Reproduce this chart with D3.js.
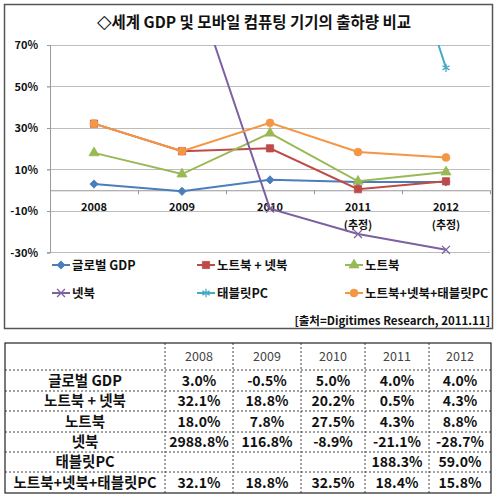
<!DOCTYPE html>
<html>
<head>
<meta charset="utf-8">
<script src="https://cdn.jsdelivr.net/npm/d3@7"></script>
<style>
  body { margin: 0; background: #fff; }
  svg { display: block; font-family: "Noto Sans CJK KR", "Noto Sans", sans-serif; }
</style>
</head>
<body>
<svg id="chart" width="500" height="498"></svg>
<script>
const years = ['2008', '2009', '2010', '2011', '2012']
const yearNotes = ['', '', '', '(추정)', '(추정)']
const yTicks = [-30, -10, 10, 30, 50, 70]

const seriesNames = ['글로벌 GDP', '노트북 + 넷북', '노트북', '넷북', '태블릿PC', '노트북+넷북+태블릿PC']
const tableNames = ['글로벌 GDP', '노트북 + 넷북', '노트북', '넷북', '태블릿PC', '노트북+넷북+태블릿PC']
const gdp = [3.0, -0.5, 5.0, 4.0, 4.0]
const notebookNetbook = [32.1, 18.8, 20.2, 0.5, 4.3]
const notebook = [18.0, 7.8, 27.5, 4.3, 8.8]
const netbook = [2988.8, 116.8, -8.9, -21.1, -28.7]
const tablet = [null, null, null, 188.3, 59.0]
const allMobile = [32.1, 18.8, 32.5, 18.4, 15.8]

const colors = ['#4a7ebb', '#be4b48', '#98b954', '#7d60a0', '#46aac5', '#f59645']
const shapes = ['diamond', 'square', 'triangle', 'x', 'star', 'circle']
const values = [gdp, notebookNetbook, notebook, netbook, tablet, allMobile]

const svg = d3.select('#chart')

// outer chart box
svg.append('rect')
    .attr('x', 4.5).attr('y', 4.5)
    .attr('width', 488).attr('height', 324)
    .attr('fill', '#fff')
    .attr('stroke', '#555').attr('stroke-width', 1.5)

const title = svg.append('text')
    .attr('x', 254).attr('y', 28)
    .attr('text-anchor', 'middle')
    .attr('font-size', 15.5).attr('font-weight', 'bold')
    .attr('fill', '#111')
title.append('tspan')
    .attr('font-family', '"DejaVu Sans", sans-serif')
    .attr('font-size', 19)
    .attr('font-weight', 'normal')
    .text('◇')
title.append('tspan').text('세계 GDP 및 모바일 컴퓨팅 기기의 출하량 비교')

const plotLeft = 50, plotRight = 490, plotTop = 45, plotBottom = 252.5

const x = d3.scaleBand().domain(years).range([plotLeft, plotRight])
const y = d3.scaleLinear().domain([-30, 70]).range([plotBottom, plotTop])

// gridlines
svg.append('g').selectAll('line')
    .data(yTicks)
    .join('line')
    .attr('x1', plotLeft - 3).attr('x2', plotRight)
    .attr('y1', d => y(d)).attr('y2', d => y(d))
    .attr('stroke', '#bdbdbd').attr('stroke-width', 1)
    .attr('shape-rendering', 'crispEdges')

// y axis
const yAxis = svg.append('g')
    .attr('transform', `translate(${plotLeft},0)`)
    .call(d3.axisLeft(y).tickValues(yTicks).tickSize(3).tickPadding(9).tickFormat(d => d + '%'))
yAxis.select('.domain').attr('stroke', '#999')
yAxis.selectAll('.tick line').attr('stroke', '#999')
yAxis.selectAll('text')
    .attr('font-size', 11).attr('font-weight', 'bold').attr('fill', '#111')
    .attr('font-family', '"Noto Sans CJK KR", sans-serif')

// x axis at zero, ticks at category boundaries
const xb = d3.scaleLinear().domain([0, years.length]).range([plotLeft, plotRight])
const xAxis = svg.append('g')
    .attr('transform', `translate(0,${y(0)})`)
    .call(d3.axisBottom(xb).ticks(years.length).tickSize(4).tickSizeOuter(0).tickFormat(''))
xAxis.select('.domain').attr('stroke', '#999')
xAxis.selectAll('.tick line').attr('stroke', '#999')

svg.append('g').selectAll('text')
    .data(years)
    .join('text')
    .attr('x', d => x(d) + x.bandwidth() / 2)
    .attr('y', 211)
    .attr('text-anchor', 'middle')
    .attr('font-size', 11).attr('font-weight', 'bold').attr('fill', '#111')
    .text(d => d)

svg.append('g').selectAll('text')
    .data(years)
    .join('text')
    .attr('x', d => x(d) + x.bandwidth() / 2)
    .attr('y', 229)
    .attr('text-anchor', 'middle')
    .attr('font-size', 11).attr('font-weight', 'bold').attr('fill', '#111')
    .text((d, i) => yearNotes[i])

svg.append('clipPath').attr('id', 'plotClip')
    .append('rect')
    .attr('x', plotLeft).attr('y', plotTop)
    .attr('width', plotRight - plotLeft).attr('height', plotBottom - plotTop + 6)

function marker (sel, shape, color) {
    const sym = {
        diamond: d3.symbolSquare,
        square: d3.symbolSquare,
        triangle: d3.symbolTriangle,
        x: d3.symbolX || d3.symbolCross,
        star: d3.symbolAsterisk || d3.symbolCross,
        circle: d3.symbolCircle
    }[shape]
    const size = { diamond: 34, square: 52, triangle: 44, x: 42, star: 48, circle: 48 }[shape]
    const stroked = shape === 'x' || shape === 'star'
    sel.append('path')
        .attr('d', d3.symbol(sym, size)())
        .attr('transform', shape === 'diamond' ? 'rotate(45)' : null)
        .attr('fill', stroked ? 'none' : color)
        .attr('stroke', color)
        .attr('stroke-width', stroked ? 1.3 : 0.8)
}

const plot = svg.append('g').attr('clip-path', 'url(#plotClip)')
const line = d3.line()
    .defined(d => d.v !== null)
    .x(d => x(d.year) + x.bandwidth() / 2)
    .y(d => y(d.v))

values.forEach((vals, i) => {
    const pts = years.map((yr, j) => ({ year: yr, v: vals[j] }))
    plot.append('path')
        .datum(pts)
        .attr('d', line)
        .attr('fill', 'none')
        .attr('stroke', colors[i])
        .attr('stroke-width', 2)
    plot.append('g').selectAll('g')
        .data(pts.filter(d => d.v !== null))
        .join('g')
        .attr('transform', d => `translate(${x(d.year) + x.bandwidth() / 2},${y(d.v)})`)
        .each(function () { marker(d3.select(this), shapes[i], colors[i]) })
})

// legend
const legendX = [52, 197, 345]
const legendY = [265, 293]
seriesNames.forEach((name, i) => {
    const g = svg.append('g')
        .attr('transform', `translate(${legendX[i % 3]},${legendY[Math.floor(i / 3)]})`)
    g.append('line')
        .attr('x1', 0).attr('x2', 18)
        .attr('stroke', colors[i]).attr('stroke-width', 2)
    marker(g.append('g').attr('transform', 'translate(9,0)'), shapes[i], colors[i])
    g.append('text')
        .attr('x', 20).attr('y', 4.5)
        .attr('font-size', 12.5).attr('font-weight', 'bold').attr('fill', '#111')
        .text(name)
})

svg.append('text')
    .attr('x', 490).attr('y', 325)
    .attr('text-anchor', 'end')
    .attr('font-size', 11.5).attr('font-weight', 'bold').attr('fill', '#111')
    .text('[출처=Digitimes Research, 2011.11]')

// data table
const colX = [5, 165, 233, 301, 365, 429, 491]
const rowY = [343, 370, 391, 411, 432, 452, 472, 493]
const table = svg.append('g')

table.append('g').selectAll('line')
    .data(rowY.slice(1, -1))
    .join('line')
    .attr('x1', colX[0]).attr('x2', colX[colX.length - 1])
    .attr('y1', d => d).attr('y2', d => d)
    .attr('stroke', '#444').attr('stroke-dasharray', '2,2')
table.append('g').selectAll('line')
    .data(colX.slice(1, -1))
    .join('line')
    .attr('x1', d => d).attr('x2', d => d)
    .attr('y1', rowY[0]).attr('y2', rowY[rowY.length - 1])
    .attr('stroke', '#444').attr('stroke-dasharray', '2,2')
table.append('rect')
    .attr('x', colX[0]).attr('y', rowY[0])
    .attr('width', colX[colX.length - 1] - colX[0])
    .attr('height', rowY[rowY.length - 1] - rowY[0])
    .attr('fill', 'none').attr('stroke', '#222').attr('stroke-width', 1.2)

const midX = i => (colX[i] + colX[i + 1]) / 2
const midY = i => (rowY[i] + rowY[i + 1]) / 2

table.append('g').selectAll('text')
    .data(years)
    .join('text')
    .attr('x', (d, i) => midX(i + 1))
    .attr('y', midY(0) + 4.5)
    .attr('text-anchor', 'middle')
    .attr('font-size', 12.5).attr('fill', '#444')
    .text(d => d)

tableNames.forEach((name, r) => {
    const g = table.append('g')
    g.append('text')
        .attr('x', midX(0)).attr('y', midY(r + 1) + 5)
        .attr('text-anchor', 'middle')
        .attr('font-size', 14.5).attr('font-weight', 'bold').attr('fill', '#111')
        .text(name)
    g.selectAll('text.v')
        .data(values[r])
        .join('text')
        .attr('class', 'v')
        .attr('x', (d, i) => midX(i + 1))
        .attr('y', midY(r + 1) + 5)
        .attr('text-anchor', 'middle')
        .attr('font-size', 14).attr('font-weight', 'bold').attr('fill', '#111')
        .text(d => d === null ? '' : d.toFixed(1) + '%')
})
</script>
</body>
</html>
